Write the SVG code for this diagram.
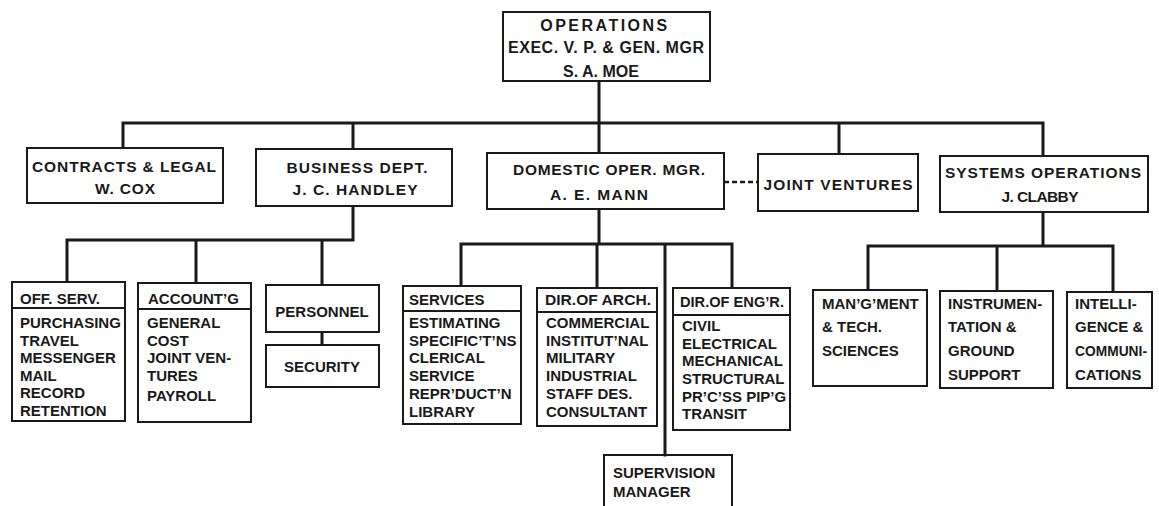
<svg xmlns="http://www.w3.org/2000/svg" width="1159" height="506" viewBox="0 0 1159 506">
<style>
.box{fill:#fff;stroke:#1a1a1a;stroke-width:2}
.div{stroke:#1a1a1a;stroke-width:2;fill:none}
.ln{stroke:#1a1a1a;stroke-width:3;fill:none;stroke-linecap:square}
.dash{stroke:#1a1a1a;stroke-width:2.5;fill:none;stroke-dasharray:5 3}
text{font-family:"Liberation Sans",Arial,sans-serif;font-weight:bold;fill:#1a1a1a;font-size:15px}
.c{text-anchor:middle}
.big{font-size:16px}
.mid{font-size:15.5px}
</style>
<rect width="1159" height="506" fill="#fff"/>
<g id="connectors">
<path class="ln" d="M599 81V123M123 123H1043M123 123V148M353 123V149M599 123V153M839 123V154M1043 123V156"/>
<path class="dash" d="M724 182H758"/>
<path class="ln" d="M353 206V240M67 240H353M67 240V282M196 240V283M322 240V285M322 332V345"/>
<path class="ln" d="M599 209V244M461 244H732M461 244V286M597 244V288M732 244V288M665 244V455"/>
<path class="ln" d="M1043 212V246M868 246H1113M868 246V290M997 246V291M1113 246V292"/>
</g>
<g id="operations">
<rect class="box" x="503" y="12" width="207" height="69"/>
<text class="c big" x="605" y="31" letter-spacing="2.5">OPERATIONS</text>
<text class="c big" x="606" y="53" textLength="196">EXEC. V. P. &amp; GEN. MGR</text>
<text class="c big" x="601" y="77">S. A. MOE</text>
</g>
<g id="contracts">
<rect class="box" x="27" y="148" width="196" height="55"/>
<text class="c mid" x="124" y="172" textLength="184">CONTRACTS &amp; LEGAL</text>
<text class="c mid" x="125" y="194" textLength="60">W. COX</text>
</g>
<g id="business">
<rect class="box" x="256" y="149" width="196" height="57"/>
<text class="c mid" x="357" y="173" textLength="141">BUSINESS DEPT.</text>
<text class="c mid" x="355" y="195" textLength="125">J. C. HANDLEY</text>
</g>
<g id="domestic">
<rect class="box" x="487" y="153" width="237" height="56"/>
<text class="c mid" x="609" y="175" textLength="192">DOMESTIC OPER. MGR.</text>
<text class="c mid" x="599" y="200" textLength="98">A. E. MANN</text>
</g>
<g id="joint-ventures">
<rect class="box" x="758" y="154" width="160" height="57"/>
<text class="c mid" x="838" y="190" textLength="149">JOINT VENTURES</text>
</g>
<g id="systems">
<rect class="box" x="940" y="156" width="208" height="56"/>
<text class="c mid" x="1043" y="178" textLength="196">SYSTEMS OPERATIONS</text>
<text class="c mid" x="1040" y="202" textLength="77">J. CLABBY</text>
</g>
<g id="off-serv">
<rect class="box" x="12" y="282" width="113" height="139"/>
<path class="div" d="M12 308H125"/>
<text x="20" y="304">OFF. SERV.</text>
<text x="20" y="328">PURCHASING</text>
<text x="20" y="345.6">TRAVEL</text>
<text x="20" y="363.2">MESSENGER</text>
<text x="20" y="380.8">MAIL</text>
<text x="20" y="398.4">RECORD</text>
<text x="20" y="416">RETENTION</text>
</g>
<g id="accounting">
<rect class="box" x="138" y="283" width="113" height="139"/>
<path class="div" d="M138 309H251"/>
<text x="148" y="304">ACCOUNT’G</text>
<text x="147" y="328">GENERAL</text>
<text x="147" y="345.6">COST</text>
<text x="147" y="363.2">JOINT VEN-</text>
<text x="147" y="380.8">TURES</text>
<text x="147" y="401">PAYROLL</text>
</g>
<g id="personnel">
<rect class="box" x="266" y="285" width="113" height="47"/>
<text class="c" x="322" y="317">PERSONNEL</text>
</g>
<g id="security">
<rect class="box" x="266" y="345" width="113" height="42"/>
<text class="c" x="322" y="372">SECURITY</text>
</g>
<g id="services">
<rect class="box" x="403" y="286" width="118" height="138"/>
<path class="div" d="M403 311H521"/>
<text x="409" y="305">SERVICES</text>
<text x="409" y="328">ESTIMATING</text>
<text x="409" y="345.6">SPECIFIC’T’NS</text>
<text x="409" y="363.2">CLERICAL</text>
<text x="409" y="381">SERVICE</text>
<text x="409" y="399">REPR’DUCT’N</text>
<text x="409" y="417">LIBRARY</text>
</g>
<g id="dir-arch">
<rect class="box" x="537" y="288" width="120" height="138"/>
<path class="div" d="M537 312H657"/>
<text x="545" y="305" textLength="106" lengthAdjust="spacingAndGlyphs">DIR.OF ARCH.</text>
<text x="546" y="328">COMMERCIAL</text>
<text x="546" y="345.6">INSTITUT’NAL</text>
<text x="546" y="363.2">MILITARY</text>
<text x="546" y="381">INDUSTRIAL</text>
<text x="546" y="399">STAFF DES.</text>
<text x="546" y="417">CONSULTANT</text>
</g>
<g id="dir-eng">
<rect class="box" x="673" y="288" width="117" height="142"/>
<path class="div" d="M673 315H790"/>
<text x="680" y="307" textLength="104" lengthAdjust="spacingAndGlyphs">DIR.OF ENG’R.</text>
<text x="682" y="331">CIVIL</text>
<text x="682" y="348.6">ELECTRICAL</text>
<text x="682" y="366.2">MECHANICAL</text>
<text x="682" y="384">STRUCTURAL</text>
<text x="682" y="402">PR’C’SS PIP’G</text>
<text x="682" y="419">TRANSIT</text>
</g>
<g id="supervision">
<path class="div" d="M604 507V455H732V507"/>
<text x="613" y="478">SUPERVISION</text>
<text x="613" y="497">MANAGER</text>
</g>
<g id="management">
<rect class="box" x="813" y="290" width="114" height="96"/>
<text x="822" y="309">MAN’G’MENT</text>
<text x="822" y="332">&amp; TECH.</text>
<text x="822" y="356">SCIENCES</text>
</g>
<g id="instrumentation">
<rect class="box" x="940" y="291" width="113" height="97"/>
<text x="948" y="309">INSTRUMEN-</text>
<text x="948" y="332">TATION &amp;</text>
<text x="948" y="356">GROUND</text>
<text x="948" y="380">SUPPORT</text>
</g>
<g id="intelligence">
<rect class="box" x="1067" y="292" width="85" height="96"/>
<text x="1075" y="309">INTELLI-</text>
<text x="1075" y="332">GENCE &amp;</text>
<text x="1075" y="356" textLength="72" lengthAdjust="spacingAndGlyphs">COMMUNI-</text>
<text x="1075" y="380">CATIONS</text>
</g>
</svg>
